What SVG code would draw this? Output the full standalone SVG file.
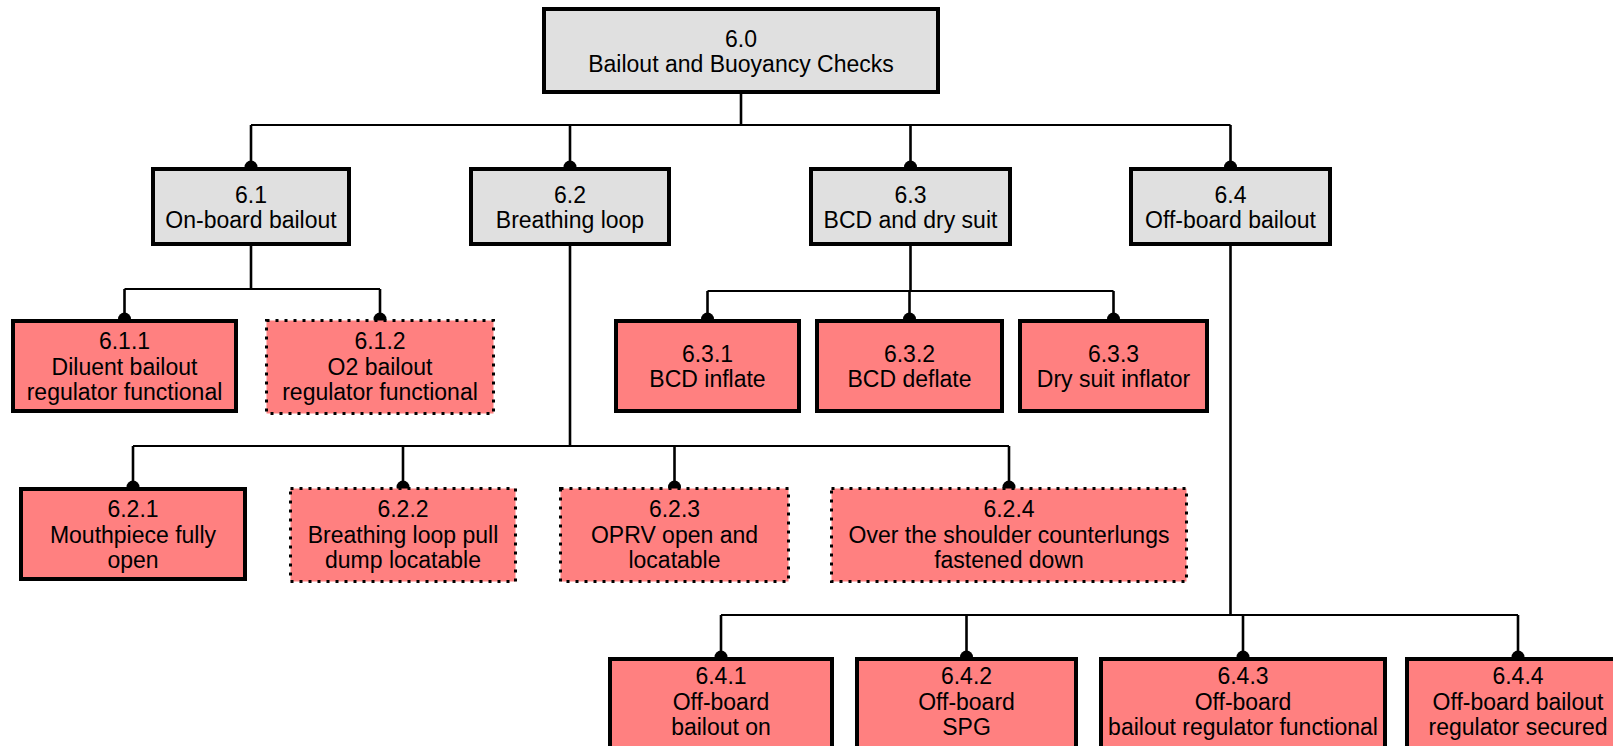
<svg xmlns="http://www.w3.org/2000/svg" width="1613" height="746" viewBox="0 0 1613 746">
  <style>
    .box { stroke: #000; stroke-width: 4; }
    .grey { fill: #e0e0e0; }
    .red { fill: #ff8080; }
    .dotted { fill: #ff8080; stroke: #000; stroke-width: 3; stroke-dasharray: 3 6; }
    .bus { fill: none; stroke: #000; stroke-width: 2; }
    .drop { fill: none; stroke: #000; stroke-width: 2.6; }
    .drop.end { marker-end: url(#dot); }
    text { font-family: "Liberation Sans", Arial, sans-serif; font-size: 23px; fill: #000; text-anchor: middle; }
  </style>
  <defs>
    <marker id="dot" markerUnits="userSpaceOnUse" markerWidth="14" markerHeight="14" refX="7" refY="7" orient="auto">
      <circle cx="7" cy="7" r="6.5" fill="#000"/>
    </marker>
  </defs>

  <rect width="1613" height="746" fill="#fff"/>

  <!-- connectors: vertical trunks, horizontal buses, drops ending in a dot -->
  <g id="connectors">
    <!-- 6.0 to level 1 -->
    <path class="drop" d="M741,94 V125"/>
    <path class="bus" d="M251,125 H1230.5"/>
    <path class="drop end" d="M251,125 V167"/>
    <path class="drop end" d="M570,125 V167"/>
    <path class="drop end" d="M910.5,125 V167"/>
    <path class="drop end" d="M1230.5,125 V167"/>
    <!-- 6.1 children -->
    <path class="drop" d="M251,246 V289"/>
    <path class="bus" d="M124.5,289 H380"/>
    <path class="drop end" d="M124.5,289 V319"/>
    <path class="drop end" d="M380,289 V319"/>
    <!-- 6.3 children -->
    <path class="drop" d="M910.5,246 V291"/>
    <path class="bus" d="M707.5,291 H1113.5"/>
    <path class="drop end" d="M707.5,291 V319"/>
    <path class="drop end" d="M909.5,291 V319"/>
    <path class="drop end" d="M1113.5,291 V319"/>
    <!-- 6.2 children -->
    <path class="drop" d="M570,246 V446"/>
    <path class="bus" d="M133,446 H1009"/>
    <path class="drop end" d="M133,446 V487"/>
    <path class="drop end" d="M403,446 V487"/>
    <path class="drop end" d="M674.5,446 V487"/>
    <path class="drop end" d="M1009,446 V487"/>
    <!-- 6.4 children -->
    <path class="drop" d="M1230.5,246 V615"/>
    <path class="bus" d="M721,615 H1518"/>
    <path class="drop end" d="M721,615 V657"/>
    <path class="drop end" d="M966.5,615 V657"/>
    <path class="drop end" d="M1243,615 V657"/>
    <path class="drop end" d="M1518,615 V657"/>
  </g>

  <!-- root -->
  <g id="n6_0">
    <rect class="box grey" x="544" y="9" width="394" height="83"/>
    <text x="741" y="46.5">6.0</text>
    <text x="741" y="71.5">Bailout and Buoyancy Checks</text>
  </g>

  <!-- level 1 -->
  <g id="n6_1">
    <rect class="box grey" x="153" y="169" width="196" height="75"/>
    <text x="251" y="203">6.1</text>
    <text x="251" y="228">On-board bailout</text>
  </g>
  <g id="n6_2">
    <rect class="box grey" x="471" y="169" width="198" height="75"/>
    <text x="570" y="203">6.2</text>
    <text x="570" y="228">Breathing loop</text>
  </g>
  <g id="n6_3">
    <rect class="box grey" x="811" y="169" width="199" height="75"/>
    <text x="910.5" y="203">6.3</text>
    <text x="910.5" y="228">BCD and dry suit</text>
  </g>
  <g id="n6_4">
    <rect class="box grey" x="1131" y="169" width="199" height="75"/>
    <text x="1230.5" y="203">6.4</text>
    <text x="1230.5" y="228">Off-board bailout</text>
  </g>

  <!-- 6.1 children -->
  <g id="n6_1_1">
    <rect class="box red" x="13" y="321" width="223" height="90"/>
    <text x="124.5" y="349">6.1.1</text>
    <text x="124.5" y="374.5">Diluent bailout</text>
    <text x="124.5" y="400">regulator functional</text>
  </g>
  <g id="n6_1_2">
    <rect class="dotted" x="266.5" y="320.5" width="227" height="93"/>
    <text x="380" y="349">6.1.2</text>
    <text x="380" y="374.5">O2 bailout</text>
    <text x="380" y="400">regulator functional</text>
  </g>

  <!-- 6.3 children -->
  <g id="n6_3_1">
    <rect class="box red" x="616" y="321" width="183" height="90"/>
    <text x="707.5" y="362">6.3.1</text>
    <text x="707.5" y="387">BCD inflate</text>
  </g>
  <g id="n6_3_2">
    <rect class="box red" x="817" y="321" width="185" height="90"/>
    <text x="909.5" y="362">6.3.2</text>
    <text x="909.5" y="387">BCD deflate</text>
  </g>
  <g id="n6_3_3">
    <rect class="box red" x="1020" y="321" width="187" height="90"/>
    <text x="1113.5" y="362">6.3.3</text>
    <text x="1113.5" y="387">Dry suit inflator</text>
  </g>

  <!-- 6.2 children -->
  <g id="n6_2_1">
    <rect class="box red" x="21" y="489" width="224" height="90"/>
    <text x="133" y="517">6.2.1</text>
    <text x="133" y="543">Mouthpiece fully</text>
    <text x="133" y="568">open</text>
  </g>
  <g id="n6_2_2">
    <rect class="dotted" x="290.5" y="488.5" width="225" height="93"/>
    <text x="403" y="517">6.2.2</text>
    <text x="403" y="543">Breathing loop pull</text>
    <text x="403" y="568">dump locatable</text>
  </g>
  <g id="n6_2_3">
    <rect class="dotted" x="560.5" y="488.5" width="228" height="93"/>
    <text x="674.5" y="517">6.2.3</text>
    <text x="674.5" y="543">OPRV open and</text>
    <text x="674.5" y="568">locatable</text>
  </g>
  <g id="n6_2_4">
    <rect class="dotted" x="831.5" y="488.5" width="355" height="93"/>
    <text x="1009" y="517">6.2.4</text>
    <text x="1009" y="543">Over the shoulder counterlungs</text>
    <text x="1009" y="568">fastened down</text>
  </g>

  <!-- 6.4 children -->
  <g id="n6_4_1">
    <rect class="box red" x="610" y="659" width="222" height="90"/>
    <text x="721" y="684">6.4.1</text>
    <text x="721" y="710">Off-board</text>
    <text x="721" y="735">bailout on</text>
  </g>
  <g id="n6_4_2">
    <rect class="box red" x="857" y="659" width="219" height="90"/>
    <text x="966.5" y="684">6.4.2</text>
    <text x="966.5" y="710">Off-board</text>
    <text x="966.5" y="735">SPG</text>
  </g>
  <g id="n6_4_3">
    <rect class="box red" x="1101" y="659" width="284" height="90"/>
    <text x="1243" y="684">6.4.3</text>
    <text x="1243" y="710">Off-board</text>
    <text x="1243" y="735">bailout regulator functional</text>
  </g>
  <g id="n6_4_4">
    <rect class="box red" x="1407" y="659" width="222" height="90"/>
    <text x="1518" y="684">6.4.4</text>
    <text x="1518" y="710">Off-board bailout</text>
    <text x="1518" y="735">regulator secured</text>
  </g>
</svg>
